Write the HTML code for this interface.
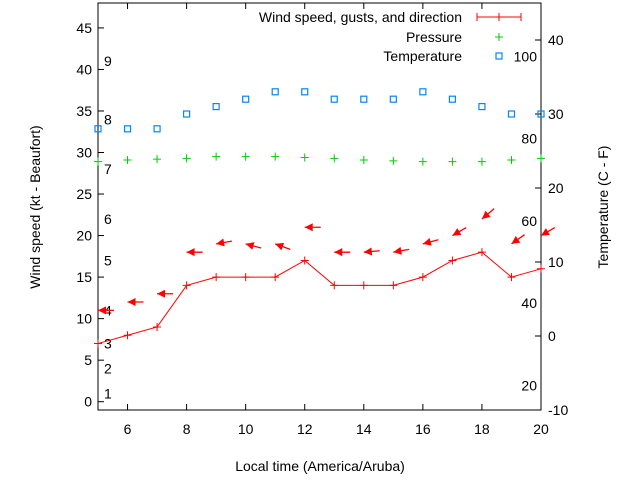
<!DOCTYPE html>
<html><head><meta charset="utf-8"><style>
body{margin:0;background:#fff}
svg text{font-family:"Liberation Sans",sans-serif;font-size:14px;fill:#000}
</style></head><body>
<svg id="c" width="640" height="480"></svg>
<script>
const hours=[5,6,7,8,9,10,11,12,13,14,15,16,17,18,19,20];
const windSpeed=[7,8,9,14,15,15,15,17,14,14,14,15,17,18,15,16];
const gustSpeed=[11,12,13,18,19,19,19,21,18,18,18,19,20,22,19,20];
const windDir=[90,90,90,90,80,105,110,90,90,85,80,75,60,50,55,60];
const pressure=[28.9,29.1,29.2,29.3,29.5,29.5,29.5,29.4,29.3,29.1,29.0,28.9,28.9,28.9,29.1,29.3];
const tempC=[28,28,28,30,31,32,33,33,32,32,32,33,32,31,30,30];
const leftTicks=[0,5,10,15,20,25,30,35,40,45];
const rightTicks=[-10,0,10,20,30,40];
const xTicks=[6,8,10,12,14,16,18,20];
const beaufort=[1,4,7,11,17,22,28,34,41];
const fahrLabels=[20,40,60,80,100];
const L=98,R=541,T=3,B=410;
const X=v=>L+(v-5)/15*(R-L);
const YL=v=>B-(v+1)/49*(B-T);
const YR=v=>B-(v+10)/55*(B-T);
const s=document.getElementById('c');const NS='http://www.w3.org/2000/svg';
function el(t,a,p){const e=document.createElementNS(NS,t);for(const k in a)e.setAttribute(k,a[k]);(p||s).appendChild(e);return e;}
function tx(x,y,str,anchor,name){const e=el('text',{x:x,y:y,'text-anchor':anchor||'start'});e.textContent=str;

return e;}
const frame=el('rect',{x:L,y:T,width:R-L,height:B-T,fill:'none',stroke:'#000'});


leftTicks.forEach(v=>{const y=YL(v);el('line',{x1:L,y1:y,x2:L+6,y2:y,stroke:'#000'});tx(L-6,y+5,String(v),'end','y-tick-label');});
rightTicks.forEach(v=>{const y=YR(v);el('line',{x1:R,y1:y,x2:R-6,y2:y,stroke:'#000'});tx(R+7,y+5,String(v),'start','y2-tick-label');});
xTicks.forEach(v=>{const x=X(v);el('line',{x1:x,y1:B,x2:x,y2:B-6,stroke:'#000'});el('line',{x1:x,y1:T,x2:x,y2:T+6,stroke:'#000'});tx(x,B+24,String(v),'middle','x-tick-label');});
beaufort.forEach((v,i)=>{tx(L+6,YL(v)+5,String(i+1),'start','beaufort-label');});
fahrLabels.forEach(f=>{tx(R-4,YR((f-32)*5/9)+5,String(f),'end','fahrenheit-label');});
tx(320,471,'Local time (America/Aruba)','middle','x-axis-title');
const yt=tx(0,0,'Wind speed (kt - Beaufort)','middle','y-axis-title');yt.setAttribute('transform','translate(40,207) rotate(-90)');
const yt2=tx(0,0,'Temperature (C - F)','middle','y2-axis-title');yt2.setAttribute('transform','translate(608,207) rotate(-90)');
// wind line
const pl=el('polyline',{points:hours.map((h,i)=>X(h)+','+YL(windSpeed[i])).join(' '),fill:'none',stroke:'#f00','stroke-width':1});


hours.forEach((h,i)=>{const x=X(h),y=YL(windSpeed[i]);el('path',{d:`M${x-4},${y}h8M${x},${y-4}v8`,stroke:'#f00'});});
// gust arrows
hours.forEach((h,i)=>{const x=X(h),y=YL(gustSpeed[i]);const a=windDir[i]*Math.PI/180;const dx=Math.sin(a),dy=-Math.cos(a);
const g=el('g',{});


el('line',{x1:x,y1:y,x2:x+dx*16,y2:y+dy*16,stroke:'#f00','stroke-width':1.3},g);
const px=-dy,py=dx;
el('polygon',{points:`${x},${y} ${x+dx*8+px*4},${y+dy*8+py*4} ${x+dx*8-px*4},${y+dy*8-py*4}`,fill:'#f00'},g);});
// pressure
hours.forEach((h,i)=>{const x=X(h),y=YL(pressure[i]);const p=el('path',{d:`M${x-4},${y}h8M${x},${y-4}v8`,stroke:'#0c0'});

});
// temperature
hours.forEach((h,i)=>{const x=X(h),y=YR(tempC[i]);const r=el('rect',{x:x-3,y:y-3,width:6,height:6,fill:'none',stroke:'#08f','stroke-width':1.2});

});
// legend
tx(462,22,'Wind speed, gusts, and direction','end','legend-wind');
el('path',{d:'M477,17h44M477,13v8M521,13v8M499,13v8',stroke:'#f00'});
tx(462,42,'Pressure','end','legend-pressure');
el('path',{d:'M495,37h8M499,33v8',stroke:'#0c0'});
tx(462,61,'Temperature','end','legend-temperature');
el('rect',{x:496,y:53,width:6,height:6,fill:'none',stroke:'#08f','stroke-width':1.2});
</script>
</body></html>
